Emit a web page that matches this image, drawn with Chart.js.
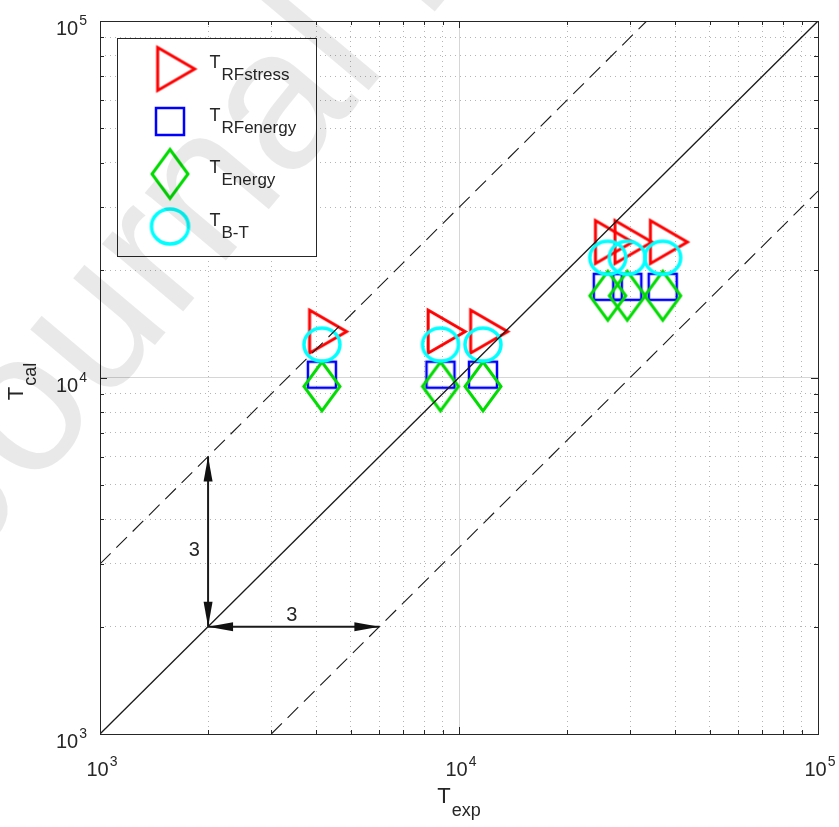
<!DOCTYPE html>
<html>
<head>
<meta charset="utf-8">
<script src="https://cdn.jsdelivr.net/npm/chart.js@4.4.1/dist/chart.umd.min.js"></script>
<style>
  html, body { margin: 0; padding: 0; background: #fff; }
  #wrap { width: 839px; height: 827px; }
</style>
</head>
<body>
<div id="wrap"><canvas id="chart" width="839" height="827"></canvas></div>
<script>
// values
const texp = [4150, 8880, 11660, 25970, 29430, 36940];
const tRFstress = [13450, 13450, 13450, 23990, 23990, 23990];
const tRFenergy = [10180, 10180, 10180, 17960, 17960, 17960];
const tEnergy = [9440, 9440, 9440, 16950, 16950, 16950];
const tBT = [12370, 12370, 12370, 21680, 21680, 21680];

const seriesSubs = ["RFstress", "RFenergy", "Energy", "B-T"];

const axisMin = 1e3;
const axisMax = 1e5;
const majorTicks = [1e3, 1e4, 1e5];
const majorExp = ["3", "4", "5"];
const minorTicks = [2e3, 3e3, 4e3, 5e3, 6e3, 7e3, 8e3, 9e3, 2e4, 3e4, 4e4, 5e4, 6e4, 7e4, 8e4, 9e4];

// 1:1 line and the factor-of-3 band
const lineEqual = [[1e3, 1e3], [1e5, 1e5]];
const lineUpper = [[1e3, 3e3], [1e5 / 3, 1e5]];
const lineLower = [[3e3, 1e3], [1e5, 1e5 / 3]];
const arrowV = [[2e3, 2e3], [2e3, 6e3]];
const arrowH = [[2e3, 2e3], [6e3, 2e3]];
const arrowText = [[1830, 3270, "3"], [3420, 2150, "3"]];

const FONT = '"Liberation Sans", Arial, sans-serif';
const INK = "#262626";

// outlined marker drawn on a small canvas (used as pointStyle)
function marker(kind, w, h, color, lw) {
    const c = document.createElement("canvas");
    const pad = Math.ceil(lw) + 3;
    const cw = kind === "tri" ? 2 * (w * 2 / 3 + pad) : w + 2 * pad;
    c.width = Math.round(cw);
    c.height = Math.round(h + 2 * pad);
    const g = c.getContext("2d");
    const cx = c.width / 2, cy = c.height / 2;
    g.strokeStyle = color;
    g.lineWidth = lw;
    g.beginPath();
    if (kind === "tri") {
        g.moveTo(cx - w / 3, cy - h / 2);
        g.lineTo(cx + 2 * w / 3, cy);
        g.lineTo(cx - w / 3, cy + h / 2);
        g.closePath();
    } else if (kind === "sq") {
        g.rect(cx - w / 2, cy - h / 2, w, h);
    } else if (kind === "dia") {
        g.moveTo(cx, cy - h / 2);
        g.lineTo(cx + w / 2, cy);
        g.lineTo(cx, cy + h / 2);
        g.lineTo(cx - w / 2, cy);
        g.closePath();
    } else {
        g.ellipse(cx, cy, w / 2, h / 2, 0, 0, 2 * Math.PI);
    }
    g.stroke();
    return c;
}

const RED = "#ff0000", BLUE = "#0000ff", GREEN = "#00dc00", CYAN = "#00ffff";
const mk = {
    tri: marker("tri", 37, 43, RED, 3),
    sq: marker("sq", 28, 26, BLUE, 2.5),
    dia: marker("dia", 36, 49, GREEN, 3),
    circ: marker("circ", 36, 33, CYAN, 3.5),
};
const legendMk = [
    mk.tri,
    marker("sq", 28, 27, BLUE, 2.5),
    mk.dia,
    marker("circ", 37, 35, CYAN, 3.5),
];

const pts = (ys) => texp.map((x, i) => ({ x: x, y: ys[i] }));
const xy = (arr) => arr.map((p) => ({ x: p[0], y: p[1] }));

function refLine(data, dash, width) {
    return {
        data: xy(data), showLine: true, borderColor: "#1a1a1a", borderWidth: width,
        borderDash: dash, pointRadius: 0, order: 0,
    };
}

function drawLabelPair(ctx, x, y, main, sub, mainPx, subPx, drop) {
    ctx.font = mainPx + "px " + FONT;
    const w1 = ctx.measureText(main).width;
    ctx.fillText(main, x, y);
    ctx.font = subPx + "px " + FONT;
    ctx.fillText(sub, x + w1 + 1, y + drop);
    return w1 + 1 + ctx.measureText(sub).width;
}

function pairWidth(ctx, main, sub, mainPx, subPx) {
    ctx.font = mainPx + "px " + FONT;
    const w1 = ctx.measureText(main).width;
    ctx.font = subPx + "px " + FONT;
    return w1 + 1 + ctx.measureText(sub).width;
}

function arrowHead(ctx, from, to) {
    const ang = Math.atan2(to.y - from.y, to.x - from.x);
    const len = 25, half = 4.5;
    ctx.save();
    ctx.translate(to.x, to.y);
    ctx.rotate(ang);
    ctx.beginPath();
    ctx.moveTo(0, 0);
    ctx.lineTo(-len, -half);
    ctx.lineTo(-len, half);
    ctx.closePath();
    ctx.fill();
    ctx.restore();
}

const decor = {
    id: "decor",
    afterDraw(chart) {
        const { ctx, chartArea: a, scales } = chart;
        ctx.save();

        // plot box
        ctx.strokeStyle = INK;
        ctx.lineWidth = 1;
        ctx.strokeRect(Math.round(a.left) + 0.5, Math.round(a.top) + 0.5,
            Math.round(a.right - a.left), Math.round(a.bottom - a.top));

        // inward tick marks on all four sides
        ctx.beginPath();
        [[scales.x, 7], [scales.xm, 4]].forEach(([s, len]) => {
            s.ticks.forEach((t) => {
                const px = Math.round(s.getPixelForValue(t.value)) + 0.5;
                ctx.moveTo(px, a.bottom); ctx.lineTo(px, a.bottom - len);
                ctx.moveTo(px, a.top); ctx.lineTo(px, a.top + len);
            });
        });
        [[scales.y, 7], [scales.ym, 4]].forEach(([s, len]) => {
            s.ticks.forEach((t) => {
                const py = Math.round(s.getPixelForValue(t.value)) + 0.5;
                ctx.moveTo(a.left, py); ctx.lineTo(a.left + len, py);
                ctx.moveTo(a.right, py); ctx.lineTo(a.right - len, py);
            });
        });
        ctx.stroke();

        // tick labels 10^n
        ctx.fillStyle = INK;
        ctx.textBaseline = "alphabetic";
        ctx.textAlign = "left";
        majorTicks.forEach((v, i) => {
            const px = scales.x.getPixelForValue(v);
            const w = pairWidth(ctx, "10", majorExp[i], 20, 14);
            drawLabelPair(ctx, px - w / 2 + 2, a.bottom + 42, "10", majorExp[i], 20, 14, -10);
            const py = scales.y.getPixelForValue(v);
            drawLabelPair(ctx, a.left - 13 - w, py + 14, "10", majorExp[i], 20, 14, -10);
        });

        // axis titles
        const cx = (a.left + a.right) / 2;
        const wx = pairWidth(ctx, "T", "exp", 22, 18);
        drawLabelPair(ctx, cx - wx / 2, a.bottom + 69, "T", "exp", 22, 18, 13);
        const wy = pairWidth(ctx, "T", "cal", 22, 18);
        ctx.save();
        ctx.translate(23, (a.top + a.bottom) / 2 + 4);
        ctx.rotate(-Math.PI / 2);
        drawLabelPair(ctx, -wy / 2, 0, "T", "cal", 22, 18, 13);
        ctx.restore();

        // arrow heads and "3" labels
        ctx.fillStyle = "#111";
        [5, 6].forEach((idx) => {
            const d = chart.getDatasetMeta(idx).data;
            arrowHead(ctx, d[0], d[1]);
            arrowHead(ctx, d[1], d[0]);
        });
        ctx.fillStyle = INK;
        ctx.font = "20px " + FONT;
        ctx.textAlign = "center";
        ctx.textBaseline = "middle";
        arrowText.forEach(([x, y, s]) => {
            ctx.fillText(s, scales.x.getPixelForValue(x), scales.y.getPixelForValue(y));
        });

        // legend
        const lx = Math.round(a.left) + 17.5, ly = Math.round(a.top) + 17.5;
        ctx.fillStyle = "#fff";
        ctx.fillRect(lx, ly, 199, 218);
        ctx.strokeStyle = INK;
        ctx.strokeRect(lx, ly, 199, 218);
        ctx.textAlign = "left";
        ctx.textBaseline = "alphabetic";
        seriesSubs.forEach((sub, i) => {
            const ry = ly + 30.5 + i * 52.5;
            const img = legendMk[i];
            ctx.drawImage(img, lx + 52.5 - img.width / 2, ry - img.height / 2);
            ctx.fillStyle = INK;
            drawLabelPair(ctx, lx + 92, ry - 1, "T", sub, 18, 17, 12);
        });

        // "Journal Pre-proof" watermark
        ctx.save();
        ctx.translate(-33, 569);
        ctx.rotate(-50 * Math.PI / 180);
        ctx.font = "200px " + FONT;
        ctx.fillStyle = "rgba(0,0,0,0.085)";
        ctx.fillText("Journal Pre-proof", 0, 0);
        ctx.restore();

        ctx.restore();
    },
};

function logAxis(pos, ticks, major) {
    return {
        type: "logarithmic",
        position: pos,
        min: axisMin,
        max: axisMax,
        afterBuildTicks: (s) => { s.ticks = ticks.map((v) => ({ value: v })); },
        afterFit: (s) => {
            if (pos === "bottom") s.height = major ? 93 : 0;
            else s.width = major ? 100 : 0;
        },
        ticks: { display: false },
        border: { display: false, dash: major ? [] : [1, 4] },
        grid: {
            drawTicks: false,
            lineWidth: 1,
            color: major
                ? (c) => (c.tick && c.tick.value === 1e4 ? "#d6d6d6" : "rgba(0,0,0,0)")
                : "#b4b4b4",
        },
    };
}

new Chart(document.getElementById("chart"), {
    type: "scatter",
    data: {
        datasets: [
            { data: pts(tRFstress), pointStyle: mk.tri, pointRadius: 20, order: 4 },
            { data: pts(tRFenergy), pointStyle: mk.sq, pointRadius: 20, order: 3 },
            { data: pts(tEnergy), pointStyle: mk.dia, pointRadius: 20, order: 2 },
            { data: pts(tBT), pointStyle: mk.circ, pointRadius: 20, order: 1 },
            refLine(lineEqual, [], 1.3),
            refLine(arrowV, [], 2),
            refLine(arrowH, [], 2),
            refLine(lineUpper, [15, 8], 1.1),
            refLine(lineLower, [15, 8], 1.1),
        ],
    },
    options: {
        responsive: false,
        devicePixelRatio: 1,
        animation: false,
        events: [],
        layout: { padding: { top: 18, right: 20, left: 0, bottom: 0 } },
        plugins: { legend: { display: false }, tooltip: { enabled: false } },
        scales: {
            x: logAxis("bottom", majorTicks, true),
            xm: logAxis("bottom", minorTicks, false),
            y: logAxis("left", majorTicks, true),
            ym: logAxis("left", minorTicks, false),
        },
    },
    plugins: [decor],
});
</script>
</body>
</html>
